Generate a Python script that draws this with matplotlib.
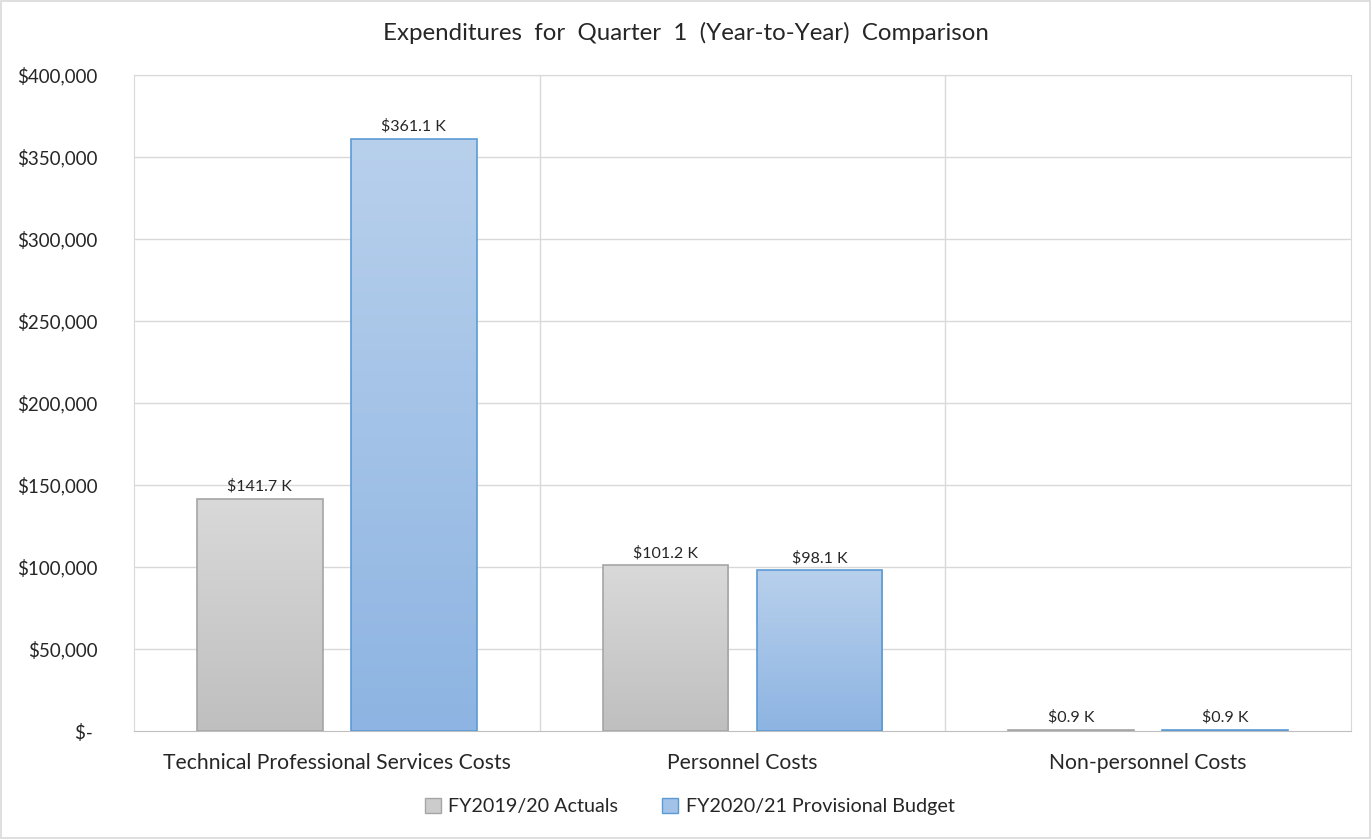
import numpy as np
import matplotlib.pyplot as plt
from matplotlib.patches import Rectangle
from matplotlib.colors import LinearSegmentedColormap

plt.rcParams['font.family'] = ['Lato', 'DejaVu Sans']

categories = ["Technical Professional Services Costs", "Personnel Costs", "Non-personnel Costs"]
actuals = [141700, 101200, 900]
budget = [361100, 98100, 900]
series_names = ["FY2019/20 Actuals", "FY2020/21 Provisional Budget"]

fig = plt.figure(figsize=(13.71, 8.39), dpi=100)
# outer border like the excel chart area
fig.patches.append(Rectangle((0.001, 0.001), 0.998, 0.998, transform=fig.transFigure,
                             fill=False, edgecolor='#d9d9d9', lw=1.2))
ax = fig.add_axes([0.0977, 0.1287, 0.8877, 0.7819])

grad_gray = LinearSegmentedColormap.from_list('g', ['#bfbfbf', '#d9d9d9'])
grad_blue = LinearSegmentedColormap.from_list('b', ['#8db4e2', '#b8d0ec'])

width = 0.31
offset = 0.19
x = np.arange(len(categories)) + 0.5

def grad_bar(xc, h, cmap, edge):
    r = Rectangle((xc - width / 2, 0), width, h, facecolor='none', edgecolor=edge, lw=1.2, zorder=3)
    ax.add_patch(r)
    g = np.linspace(0, 1, 256).reshape(-1, 1)
    im = ax.imshow(g, cmap=cmap, origin='lower', aspect='auto',
                   extent=(xc - width / 2, xc + width / 2, 0, max(h, 1)), zorder=2)
    im.set_clip_path(r)
    return r

for i in range(len(categories)):
    grad_bar(x[i] - offset, actuals[i], grad_gray, '#a5a5a5')
    grad_bar(x[i] + offset, budget[i], grad_blue, '#5b9bd5')
    ax.text(x[i] - offset, actuals[i] + 3000, f"${actuals[i]/1000:.1f} K", ha='center', va='bottom',
            fontsize=11.5, color='#262626')
    ax.text(x[i] + offset, budget[i] + 3000, f"${budget[i]/1000:.1f} K", ha='center', va='bottom',
            fontsize=11.5, color='#262626')

ax.set_aspect('auto')
ax.set_xlim(0, 3)
ax.set_ylim(0, 400000)

yt = np.arange(0, 400001, 50000)
ax.set_yticks(yt)
# excel accounting format: zero shown as "$-" with trailing space
ax.set_yticklabels(["$- "] + [f"${v:,.0f}" for v in yt[1:]], fontsize=13.5, color='#262626')
ax.set_xticks(x)
ax.set_xticklabels(categories, fontsize=15.2, color='#262626')
ax.tick_params(axis='y', length=0, pad=26)
ax.tick_params(axis='x', length=0, pad=16)

for v in yt[1:]:
    ax.axhline(v, color='#d9d9d9', lw=1, zorder=1)
for b in [1, 2]:
    ax.axvline(b, color='#d9d9d9', lw=1, zorder=1)
for s in ax.spines.values():
    s.set_color('#d9d9d9')
ax.spines['bottom'].set_color('#bfbfbf')

fig.text(0.5, 0.961, "Expenditures  for  Quarter  1  (Year-to-Year)  Comparison", fontsize=17.3,
         color='#262626', ha='center', va='center')

handles = [Rectangle((0, 0), 1, 1, facecolor='#cccccc', edgecolor='#a5a5a5'),
           Rectangle((0, 0), 1, 1, facecolor='#a3c2e8', edgecolor='#5b9bd5')]
fig.legend(handles, series_names, loc='center', bbox_to_anchor=(0.503, 0.039), ncol=2,
           frameon=False, fontsize=14.2, handlelength=0.8, handleheight=0.8,
           columnspacing=2.2, handletextpad=0.4, labelcolor='#262626')

fig.savefig('out.png', dpi=100)
